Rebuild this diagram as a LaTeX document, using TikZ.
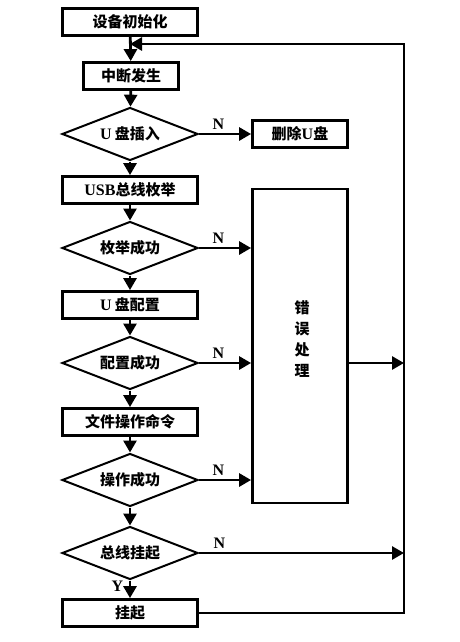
\documentclass[tikz,border=0pt]{standalone}
\usepackage{fontspec}
\setmainfont{Liberation Serif}
\newfontfamily\cjk{Noto Sans CJK SC}
\usepackage{tikz}
\usetikzlibrary{arrows.meta, shapes.geometric}

\tikzset{
    txt/.style={font=\cjk\bfseries\fontsize{15}{21}\selectfont},
    box/.style={txt, draw, line width=2.8pt, inner sep=0pt, minimum width=135pt, minimum height=27pt},
    smallbox/.style={box, minimum width=95pt},
    test/.style={txt, draw, diamond, aspect=2.6, line width=2pt, inner sep=0pt, minimum width=136pt, minimum height=53pt},
    arr/.style={line width=2.8pt, -{Triangle[length=12pt, width=13pt]}},
    yn/.style={font=\bfseries\fontsize{16}{16}\selectfont}
}
\newcommand{\lat}[1]{{\rmfamily\bfseries\fontsize{16}{16}\selectfont #1}}

\begin{document}
\begin{tikzpicture}[x=1pt, y=-1pt]
    \useasboundingbox (0,0) rectangle (459,642);

    % Main chain
    \node[box] (init) at (130,22) {设备初始化};
    \node[smallbox] (intr) at (131,76) {中断发生};
    \node[test] (plug) at (130,134) {\lat{U} 盘插入};
    \node[smallbox] (del) at (300,134) {删除\lat{U}盘};
    \node[box] (usb) at (130,190) {\lat{USB}总线枚举};
    \node[test] (enum) at (130,248) {枚举成功};
    \node[box] (cfg) at (130,305) {\lat{U} 盘配置};
    \node[test] (cfgok) at (130,363) {配置成功};
    \node[box] (file) at (130,422) {文件操作命令};
    \node[test] (opok) at (130,480) {操作成功};
    \node[test] (bus) at (130,553) {总线挂起};
    \node[box] (hang) at (130,613) {挂起};

    % Error box
    \node[smallbox, minimum height=314pt] (err) at (300,346) {};
    \node[txt, align=center] (errtxt) at (302,339) {错\\误\\处\\理};

    % Right return line
    \coordinate (rt) at (404,44);
    \coordinate (back) at (130,44);

    \draw[arr] (init) -- (intr);
    \draw[arr] (intr) -- (plug);
    \draw[arr] (plug) -- (usb);
    \draw[arr] (usb) -- (enum);
    \draw[arr] (enum) -- (cfg);
    \draw[arr] (cfg) -- (cfgok);
    \draw[arr] (cfgok) -- (file);
    \draw[arr] (file) -- (opok);
    \draw[arr] (opok) -- (bus);
    \draw[arr] (bus) -- node[yn, left, pos=0.3, xshift=-2pt] {Y} (hang);

    % N branches
    \draw[arr] (plug.east) -- node[yn, above, pos=0.37] {N} (del.west);
    \draw[arr] (enum.east) -- node[yn, above, pos=0.37] {N} (enum -| err.west);
    \draw[arr] (cfgok.east) -- node[yn, above, pos=0.37] {N} (cfgok -| err.west);
    \draw[arr] (opok.east) -- node[yn, above, pos=0.37] {N} (opok -| err.west);
    \draw[arr] (bus.east) -- node[yn, above, pos=0.1] {N} (bus -| rt);
    \draw[arr] (err.east |- cfgok) -- (cfgok -| rt);

    % Loop back
    \draw[arr] (hang.east) -| (rt) -- (back);
\end{tikzpicture}
\end{document}
